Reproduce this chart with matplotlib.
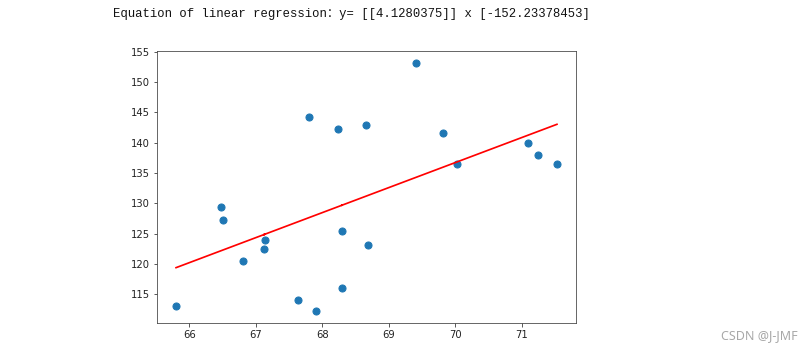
import matplotlib
matplotlib.use("Agg")
import matplotlib.pyplot as plt
import numpy as np

# Data
heights = [65.80, 66.48, 66.50, 66.80, 67.14, 67.12, 67.63, 67.80, 67.91, 68.23,
           68.30, 68.29, 68.66, 68.69, 69.41, 69.81, 70.02, 71.09, 71.25, 71.53]
weights = [113.0, 129.4, 127.3, 120.5, 124.0, 122.4, 114.1, 144.2, 112.3, 142.3,
           125.5, 116.0, 143.0, 123.2, 153.1, 141.6, 136.5, 139.9, 137.9, 136.5]
coef = 4.1280375
intercept = -152.23378453

title_text = "Equation of linear regression\uff1ay= [[4.1280375]] x [-152.23378453]"
watermark = "CSDN @J-JMF"

fig = plt.figure(figsize=(811 / 72, 363 / 72), dpi=72)
ax = fig.add_axes([157 / 811, 40 / 363, (576 - 157) / 811, (323 - 51) / 363])

ax.scatter(heights, weights, s=50)
x = np.array(heights)
ax.plot(x, coef * x + intercept, color="red", linewidth=1.7)

ax.set_xticks([66, 67, 68, 69, 70, 71])
ax.set_yticks([115, 120, 125, 130, 135, 140, 145, 150, 155])
for sp in ax.spines.values():
    sp.set_color("#444444")
ax.tick_params(colors="#333333", labelcolor="#222222")

fig.text(351 / 811, 1 - 14 / 363, title_text, ha="center", va="center",
         family=["Liberation Mono", "Noto Sans CJK SC"], fontsize=12.3, color="#111111")
fig.text(798 / 811, 1 - 336 / 363, watermark, ha="right", va="center",
         family=["Noto Sans"], fontsize=12.5, color="#a8a8a8")

fig.savefig("out.png", dpi=72)
